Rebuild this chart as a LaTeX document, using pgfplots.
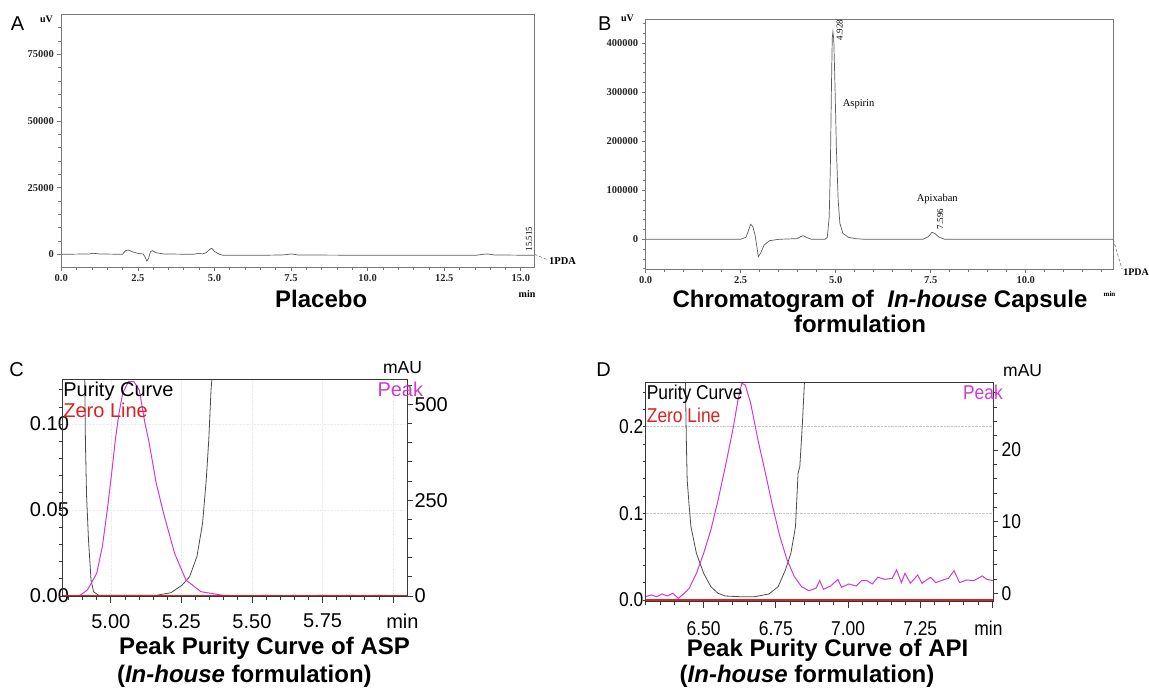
\documentclass[border=0pt]{standalone}
\usepackage{fontspec}
\setmainfont{Liberation Serif}
\newfontfamily\arial{Liberation Sans}
\usepackage{pgfplots}
\pgfplotsset{compat=1.18}
\definecolor{trace}{RGB}{90,90,90}
\definecolor{framecol}{RGB}{120,120,120}
\definecolor{peakcol}{RGB}{205,60,210}
\definecolor{zerocol}{RGB}{215,35,35}
\definecolor{boxcol}{RGB}{55,55,55}

\pgfplotsset{
  chrom/.style={
    scale only axis, anchor=south west,
    scaled ticks=false,
    axis x line*=bottom, axis y line*=left,
    axis line style={framecol, line width=0.8pt},
    x axis line style={-}, y axis line style={-},
    tick align=outside,
    tick style={framecol, line width=0.7pt},
    tick label style={font=\bfseries\fontsize{10.5}{12}\selectfont, text=black!85},
  },
  purity/.style={
    scale only axis, anchor=south west,
    scaled ticks=false,
    axis line style={boxcol, line width=0.9pt},
    x axis line style={-}, y axis line style={-},
    tick align=outside,
    tick style={boxcol, line width=0.8pt},
    tick label style={font=\arial\fontsize{20}{22}\selectfont},
  },
}
\tikzset{tkA/.style={framecol, line width=0.7pt}, tkC/.style={boxcol, line width=0.8pt}}

\begin{document}
\begin{tikzpicture}
\useasboundingbox (0pt,0pt) rectangle (1149pt,693pt);

% ---------- A: placebo ----------
\begin{axis}[chrom, at={(61.3pt,426pt)}, width=473.3pt, height=252.7pt,
  xmin=0, xmax=15.45, ymin=-4760, ymax=90000,
  major tick length=4pt, minor tick length=3pt,
  xtick={0,2.5,5,7.5,10,12.5,15}, xticklabels={0.0,2.5,5.0,7.5,10.0,12.5,15.0},
  ytick={0,25000,50000,75000}, yticklabels={0,25000,50000,75000},
]
\addplot[trace, line width=0.7pt] coordinates {
 (0,0) (0.91,125) (1.03,375) (1.27,125) (2.0,0) (2.10,1375) (2.18,1625)
 (2.31,1000) (2.49,375) (2.67,125) (2.73,-875) (2.79,-2500) (2.85,-1500)
 (2.91,1000) (2.97,1375) (3.09,625) (3.34,125) (4.31,0) (4.49,375)
 (4.61,125) (4.73,625) (4.85,1875) (4.91,2250) (5.01,1000) (5.16,0)
 (5.28,-375) (6.49,-375) (7.22,-250) (7.52,125) (7.71,-250) (10.13,-375)
 (13.53,-375) (13.77,0) (13.9,125) (14.14,-250) (15.45,-375)
};
\end{axis}
\draw[framecol, line width=0.8pt] (61.3pt,426pt) rectangle (534.6pt,678.7pt);
\foreach \v in {0,0.5,...,15.2} \draw[tkA] ({61.3pt+\v*30.634pt},426pt) -- ++(0pt,-3pt);
\foreach \v in {0,2.5,...,15} \draw[tkA] ({61.3pt+\v*30.634pt},426pt) -- ++(0pt,-4pt);
\foreach \v in {5,10,...,85} \draw[tkA] (61.3pt,{426pt+(\v+4.76)*2.6667pt}) -- ++(-3pt,0pt);
\foreach \v in {0,25,50,75} \draw[tkA] (61.3pt,{426pt+(\v+4.76)*2.6667pt}) -- ++(-4pt,0pt);
\node[font=\arial\fontsize{20}{22}\selectfont] at (17.5pt,669.7pt) {A};
\node[font=\bfseries\fontsize{10}{12}\selectfont] at (46.5pt,674pt) {uV};
\node[font=\bfseries\fontsize{10}{12}\selectfont] at (527pt,398.7pt) {min};
\node[font=\fontsize{9}{10}\selectfont, rotate=90] at (528.9pt,454pt) {15.515};
\node[font=\bfseries\fontsize{10.5}{12}\selectfont, anchor=west, inner sep=0pt] at (549pt,432pt) {1PDA};
\draw[framecol, densely dashed, line width=0.6pt] (534.6pt,438.7pt) -- (548pt,433pt);
\node[font=\arial\bfseries\fontsize{24}{26}\selectfont, anchor=base] at (321.2pt,385pt) {Placebo};

% ---------- B: capsule ----------
\begin{axis}[chrom, at={(645.6pt,423.7pt)}, width=467.6pt, height=250.3pt,
  xmin=0, xmax=12.3, ymin=-61200, ymax=449600,
  major tick length=4pt, minor tick length=3pt,
  xtick={0,2.5,5,7.5,10}, xticklabels={0.0,2.5,5.0,7.5,10.0},
  ytick={0,100000,200000,300000,400000}, yticklabels={0,100000,200000,300000,400000},
]
\addplot[trace, line width=0.7pt] coordinates {
 (0,0) (2.495,0) (2.64,4082) (2.71,19048) (2.764,30600) (2.82,25850)
 (2.879,8844) (2.927,-14967) (2.965,-35375) (3.023,-28573) (3.119,-11565)
 (3.263,-2721) (3.503,0) (3.983,1360) (4.079,5442) (4.146,7483) (4.223,4082)
 (4.367,0) (4.722,0) (4.779,4082) (4.83,46260) (4.86,148300) (4.89,318400)
 (4.91,410400) (4.928,423800) (4.95,406800) (4.98,318400) (5.02,182300)
 (5.065,80280) (5.11,32650) (5.19,12245) (5.33,4082) (5.52,1360) (5.758,0)
 (7.294,0) (7.438,5442) (7.534,14286) (7.60,12245) (7.726,4082) (7.869,0)
 (12.3,0)
};
\end{axis}
\draw[framecol, line width=0.8pt] (645.6pt,423.7pt) rectangle (1113.2pt,674pt);
\foreach \v in {0,0.5,...,12.1} \draw[tkA] ({645.6pt+\v*38.016pt},423.7pt) -- ++(0pt,-3pt);
\foreach \v in {0,2.5,...,10} \draw[tkA] ({645.6pt+\v*38.016pt},423.7pt) -- ++(0pt,-4pt);
\foreach \v in {-60,-40,...,440} \draw[tkA] (645.6pt,{423.7pt+(\v+61.2)*0.49002pt}) -- ++(-3pt,0pt);
\foreach \v in {0,100,...,400} \draw[tkA] (645.6pt,{423.7pt+(\v+61.2)*0.49002pt}) -- ++(-4pt,0pt);
\node[font=\arial\fontsize{20}{22}\selectfont] at (604.8pt,669pt) {B};
\node[font=\bfseries\fontsize{10}{12}\selectfont] at (627.4pt,674.7pt) {uV};
\node[font=\fontsize{9}{10}\selectfont, rotate=90] at (839.7pt,663pt) {4.928};
\node[font=\fontsize{10.5}{12}\selectfont] at (858.6pt,589pt) {Aspirin};
\node[font=\fontsize{10.5}{12}\selectfont] at (937.3pt,493.7pt) {Apixaban};
\node[font=\fontsize{9}{10}\selectfont, rotate=90] at (940.3pt,474pt) {7.596};
\node[font=\bfseries\fontsize{10}{12}\selectfont, anchor=east, inner sep=0pt] at (1149pt,420.3pt) {1PDA};
\draw[framecol, densely dashed, line width=0.6pt] (1113.2pt,453.7pt) -- (1122pt,424pt);
\node[font=\bfseries\fontsize{7}{8}\selectfont] at (1109.5pt,399pt) {min};
\node[font=\arial\bfseries\fontsize{24}{26}\selectfont, anchor=base] at (880pt,385pt)
  {Chromatogram of\ \ \textit{In-house} Capsule};
\node[font=\arial\bfseries\fontsize{24}{26}\selectfont, anchor=base] at (860pt,360pt) {formulation};

% ---------- C: purity ASP ----------
\begin{axis}[purity, at={(62.1pt,97pt)}, width=345.7pt, height=216.7pt,
  xmin=4.8275, xmax=6.052, ymin=0, ymax=0.126,
  axis x line*=bottom, axis y line=none,
  major tick length=7pt, minor tick length=4.5pt,
  xtick={5,5.25,5.5,5.75,6}, xticklabels={5.00,5.25,5.50,5.75,{}},
  xmajorgrids, grid style={gray!15, densely dotted},
  xticklabel style={anchor=north, inner sep=0pt, yshift=-11pt},
]
\addplot[draw=none] coordinates {(5,0.05)};
\end{axis}
\begin{axis}[purity, at={(62.1pt,97pt)}, width=345.7pt, height=216.7pt,
  xmin=4.8275, xmax=6.052, ymin=0, ymax=0.126,
  axis x line=none, axis y line*=left,
  major tick length=3pt, minor tick length=3pt,
  ytick={0,0.05,0.1}, yticklabels={0.00,0.05,0.10},
  ymajorgrids, grid style={gray!15, densely dotted},
  yticklabel style={anchor=east, inner sep=0pt, xshift=10pt},
]
\addplot[black!70, line width=0.8pt] coordinates {
 (4.906,0.14) (4.908,0.126) (4.910,0.0907) (4.914,0.0591) (4.921,0.0326)
 (4.930,0.0093) (4.939,0.0025) (4.957,0.0004) (5.161,0.0004) (5.213,0.0019)
 (5.253,0.0064) (5.279,0.0112) (5.305,0.0229) (5.325,0.0422) (5.338,0.0674)
 (5.347,0.0907) (5.355,0.1198) (5.358,0.126) (5.360,0.14)
};
\end{axis}
\begin{axis}[purity, at={(62.1pt,97pt)}, width=345.7pt, height=216.7pt,
  xmin=4.8275, xmax=6.052, ymin=0, ymax=565.5,
  axis x line=none, axis y line*=right,
  ytick={0,250,500}, yticklabels={0,250,500},
  major tick length=5pt, minor tick length=4pt,
  yticklabel style={anchor=west, inner sep=0pt, xshift=1.5pt},
]
\addplot[peakcol, line width=1pt] coordinates {
 (4.8275,0) (4.871,0) (4.891,1.7) (4.917,15.7) (4.937,41.8) (4.950,59.2)
 (4.970,128.7) (4.989,233.1) (5.003,320.1) (5.016,407.1) (5.029,476.7)
 (5.042,528.9) (5.062,559.3) (5.082,559.3) (5.101,537.6) (5.121,450.6)
 (5.134,407.1) (5.161,294.0) (5.187,215.7) (5.226,111.3) (5.266,41.8)
 (5.319,11.3) (5.398,1.7) (5.45,0.8) (5.5,0) (5.55,2) (5.6,0) (5.65,1.5)
 (5.7,0) (5.75,2) (5.8,0.3) (5.85,1.8) (5.9,0) (5.95,2) (6.0,0.4) (6.052,1.2)
};
\addplot[zerocol, line width=1.2pt] coordinates {(4.8275,0) (6.052,0)};
\end{axis}
\draw[boxcol, line width=0.9pt] (62.1pt,97pt) rectangle (407.8pt,313.7pt);
\foreach \v in {4.85,4.9,...,6.04} \draw[tkC] ({62.1pt+(\v-4.8275)*282.32pt},97pt) -- ++(0pt,-4.5pt);
\foreach \v in {5,5.25,...,6} \draw[tkC] ({62.1pt+(\v-4.8275)*282.32pt},97pt) -- ++(0pt,-7pt);
\foreach \v in {0,0.01,...,0.121} \draw[tkC] (62.1pt,{97pt+\v*1719.8pt}) -- ++(-3pt,0pt);
\foreach \v in {0,50,...,550} \draw[tkC] (407.8pt,{97pt+\v*0.3832pt}) -- ++(4pt,0pt);
\foreach \v in {0,250,500} \draw[tkC] (407.8pt,{97pt+\v*0.3832pt}) -- ++(5pt,0pt);
\node[font=\arial\fontsize{20}{22}\selectfont] at (16.7pt,323pt) {C};
\node[font=\arial\fontsize{20}{22}\selectfont, anchor=base west, inner sep=0pt] at (63.2pt,296.3pt) {Purity Curve};
\node[font=\arial\fontsize{20}{22}\selectfont, anchor=base west, inner sep=0pt, text=zerocol] at (63.2pt,275pt) {Zero Line};
\node[font=\arial\fontsize{20}{22}\selectfont, anchor=base west, inner sep=0pt, text=peakcol] at (377.3pt,296.3pt) {Peak};
\node[font=\arial\fontsize{17.5}{20}\selectfont, anchor=base west, inner sep=0pt] at (382.9pt,319.7pt) {mAU};
\node[font=\arial\fontsize{20}{22}\selectfont] at (402.4pt,71.3pt) {min};
\node[font=\arial\bfseries\fontsize{24}{26}\selectfont, anchor=base] at (264.5pt,38pt) {Peak Purity Curve of ASP};
\node[font=\arial\bfseries\fontsize{24}{26}\selectfont, anchor=base] at (244.4pt,10pt) {(\textit{In-house} formulation)};

% ---------- D: purity API ----------
\begin{axis}[purity, at={(645.6pt,92pt)}, width=347.4pt, height=218.7pt,
  xmin=6.299, xmax=7.502, ymin=-0.00115, ymax=0.2512,
  axis x line*=bottom, axis y line=none,
  major tick length=7pt, minor tick length=4.5pt,
  xtick={6.5,6.75,7,7.25,7.5}, xticklabels={6.50,6.75,7.00,7.25,{}},
  tick label style={xscale=0.87},
  xticklabel style={anchor=north, inner sep=0pt, yshift=-13pt},
]
\addplot[draw=none] coordinates {(7,0.1)};
\end{axis}
\begin{axis}[purity, at={(645.6pt,92pt)}, width=347.4pt, height=218.7pt,
  xmin=6.299, xmax=7.502, ymin=-0.00115, ymax=0.2512,
  axis x line=none, axis y line*=left,
  major tick length=3pt, minor tick length=3pt,
  ytick={0,0.1,0.2}, yticklabels={0.0,0.1,0.2},
  ymajorgrids, grid style={gray!45, densely dotted},
  tick label style={xscale=0.87},
  yticklabel style={anchor=east, inner sep=0pt, xshift=1pt},
]
\addplot[black!70, line width=0.8pt] coordinates {
 (6.4347,0.2615) (6.437,0.251) (6.440,0.1846) (6.443,0.1385) (6.450,0.1077)
 (6.456,0.0846) (6.475,0.0538) (6.500,0.0308) (6.525,0.0154) (6.550,0.0077)
 (6.575,0.0046) (6.626,0.0038) (6.676,0.0038) (6.726,0.0069) (6.758,0.0154)
 (6.783,0.0346) (6.802,0.0538) (6.818,0.0846) (6.827,0.1462) (6.833,0.1538)
 (6.842,0.2038) (6.849,0.2512) (6.852,0.265)
};
\end{axis}
\begin{axis}[purity, at={(645.6pt,92pt)}, width=347.4pt, height=218.7pt,
  xmin=6.299, xmax=7.502, ymin=-1.074, ymax=29.44,
  axis x line=none, axis y line*=right,
  ytick={0,10,20}, yticklabels={0,10,20},
  major tick length=5pt, minor tick length=4pt,
  tick label style={xscale=0.87},
  yticklabel style={anchor=west, inner sep=0pt, xshift=4pt},
]
\addplot[peakcol, line width=1pt] coordinates {
 (6.299,-0.47) (6.318,-0.23) (6.337,-0.47) (6.356,-0.09) (6.374,-0.37)
 (6.393,0) (6.412,-0.70) (6.431,-0.09) (6.450,0.70) (6.475,2.79) (6.500,5.58)
 (6.525,8.84) (6.550,13.02) (6.575,17.67) (6.601,22.79) (6.619,26.98)
 (6.632,29.3) (6.644,29.07) (6.663,26.5) (6.688,21.4) (6.714,16.74)
 (6.739,12.09) (6.764,7.91) (6.789,4.65) (6.814,2.33) (6.839,0.93)
 (6.864,0.37) (6.889,0.70) (6.902,1.77) (6.915,0.56) (6.940,1.02)
 (6.965,1.95) (6.977,0.84) (7.003,1.30) (7.028,1.02) (7.047,1.77)
 (7.065,1.77) (7.084,1.30) (7.103,2.23) (7.128,1.95) (7.153,2.09)
 (7.168,3.26) (7.185,1.49) (7.197,2.79) (7.216,1.40) (7.241,2.56)
 (7.256,1.40) (7.285,2.23) (7.304,1.49) (7.329,1.86) (7.348,2.09)
 (7.367,3.16) (7.386,1.49) (7.411,1.86) (7.436,1.77) (7.465,2.42)
 (7.480,1.95) (7.502,1.77)
};
\addplot[zerocol, line width=1.2pt] coordinates {(6.299,-0.935) (7.502,-0.935)};
\end{axis}
\draw[boxcol, line width=0.9pt] (645.6pt,92pt) rectangle (993pt,310.7pt);
\foreach \v in {6.3,6.35,...,7.49} \draw[tkC] ({645.6pt+(\v-6.299)*288.78pt},92pt) -- ++(0pt,-4.5pt);
\foreach \v in {6.5,6.75,...,7.5} \draw[tkC] ({645.6pt+(\v-6.299)*288.78pt},92pt) -- ++(0pt,-7pt);
\foreach \v in {0,0.02,...,0.241} \draw[tkC] (645.6pt,{92pt+(\v+0.00115)*866.65pt}) -- ++(-3pt,0pt);
\foreach \v in {0,2,...,28} \draw[tkC] (993pt,{92pt+(\v+1.074)*7.1672pt}) -- ++(4pt,0pt);
\foreach \v in {0,10,20} \draw[tkC] (993pt,{92pt+(\v+1.074)*7.1672pt}) -- ++(5pt,0pt);
\node[font=\arial\fontsize{20}{22}\selectfont] at (603.7pt,323pt) {D};
\node[font=\arial\fontsize{20}{22}\selectfont, xscale=0.87, anchor=base west, inner sep=0pt] at (646.7pt,293pt) {Purity Curve};
\node[font=\arial\fontsize{20}{22}\selectfont, xscale=0.87, anchor=base west, inner sep=0pt, text=zerocol] at (646.7pt,270.3pt) {Zero Line};
\node[font=\arial\fontsize{20}{22}\selectfont, xscale=0.87, anchor=base west, inner sep=0pt, text=peakcol] at (962.9pt,293pt) {Peak};
\node[font=\arial\fontsize{17.5}{20}\selectfont, anchor=base west, inner sep=0pt] at (1003pt,316.3pt) {mAU};
\node[font=\arial\fontsize{20}{22}\selectfont, xscale=0.87] at (988.5pt,64.7pt) {min};
\node[font=\arial\bfseries\fontsize{24}{26}\selectfont, anchor=base] at (827.6pt,36.3pt) {Peak Purity Curve of API};
\node[font=\arial\bfseries\fontsize{24}{26}\selectfont, anchor=base] at (807pt,10pt) {(\textit{In-house} formulation)};
\end{tikzpicture}
\end{document}
